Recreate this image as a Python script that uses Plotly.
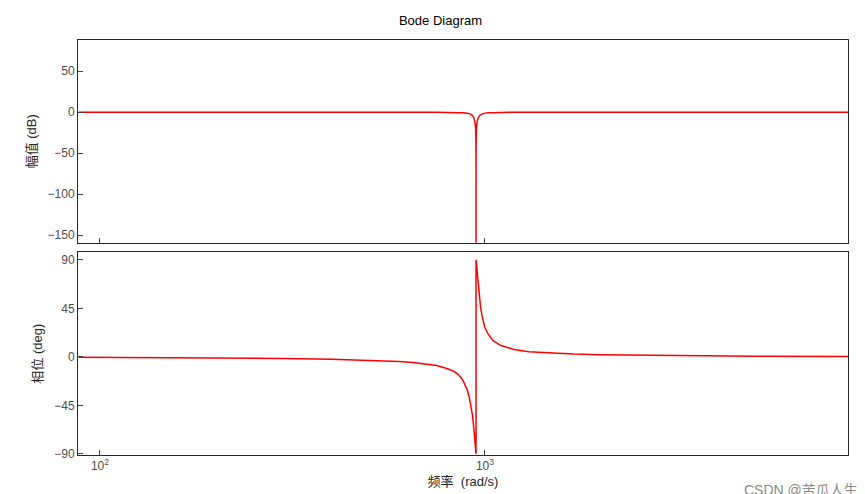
import plotly.graph_objects as go
from plotly.subplots import make_subplots

mag_freq = [88, 300, 500, 700, 800, 880, 910, 930, 940, 945, 947.5, 948, 948.5, 951, 956, 968, 990, 1020, 1100, 1300, 2000, 8770]
mag_db = [0, -0.02, -0.05, -0.1, -0.3, -0.8, -1.8, -4.5, -10, -18, -40, -160, -40, -18, -10, -4.5, -1.8, -0.8, -0.3, -0.1, -0.02, 0]

ph_freq = [88, 150, 200, 300, 400, 500, 600, 650, 700, 750, 800, 830, 850, 870, 880, 890, 900, 910, 920, 928, 935, 940, 945, 948, 948, 950, 952, 956, 960, 967, 975, 987, 1000, 1020, 1050, 1100, 1150, 1200, 1300, 1400, 1700, 2000, 3000, 5000, 8770]
ph_deg = [-0.4, -0.7, -0.9, -1.5, -2.1, -3.0, -4.3, -5.3, -6.5, -8, -11, -13.5, -16, -20, -23, -26.5, -31, -37, -45, -54, -65, -74, -85, -90, 90, 88, 85, 76, 68, 56, 45, 35, 27, 21, 15, 10.5, 8.2, 6.5, 4.8, 4, 2.6, 2, 1.1, 0.6, 0.35]

fig = make_subplots(rows=2, cols=1, shared_xaxes=True, vertical_spacing=0.024)
fig.add_trace(go.Scatter(x=mag_freq, y=mag_db, mode="lines", line=dict(color="#ff0000", width=1.5, shape="spline", smoothing=0.5)), 1, 1)
fig.add_trace(go.Scatter(x=ph_freq, y=ph_deg, mode="lines", line=dict(color="#ff0000", width=1.5)), 2, 1)

font = "Liberation Sans, Arial, Noto Sans CJK SC"
ax = dict(showline=True, linecolor="#262626", mirror=True, ticks="inside", showgrid=False, zeroline=False,
          tickfont=dict(size=12, color="#4d4d4d"), ticklen=5, automargin=False)
fig.update_xaxes(type="log", range=[1.943, 3.943], **ax,
                 tickvals=[100, 1000], ticktext=["10<sup>2</sup>", "10<sup>3</sup>"])
fig.update_xaxes(title=dict(text="频率  (rad/s)", font=dict(size=13, color="#262626"), standoff=4), row=2, col=1)
fig.update_yaxes(range=[-159, 88], tickvals=[50, 0, -50, -100, -150], row=1, col=1, **ax,
                 title=dict(text="幅值 (dB)", font=dict(size=13, color="#262626"), standoff=8))
fig.update_yaxes(range=[-91, 96.8], tickvals=[90, 45, 0, -45, -90], row=2, col=1, **ax,
                 title=dict(text="相位 (deg)", font=dict(size=13, color="#262626"), standoff=8))
fig.update_layout(width=865, height=494, margin=dict(l=70, r=25, t=32, b=47, autoexpand=False),
                  paper_bgcolor="white", plot_bgcolor="white", showlegend=False,
                  font=dict(family=font),
                  title=dict(text="Bode Diagram", x=0.5, xanchor="center", y=0.985, yanchor="top",
                             font=dict(size=13, color="#000")))
fig.add_annotation(text="CSDN @苦瓜人生", xref="paper", yref="paper", x=1.015, y=-0.06,
                   xanchor="right", yanchor="top", showarrow=False,
                   font=dict(size=14, color="#8a8a8a"))
fig.write_html("out.html")
